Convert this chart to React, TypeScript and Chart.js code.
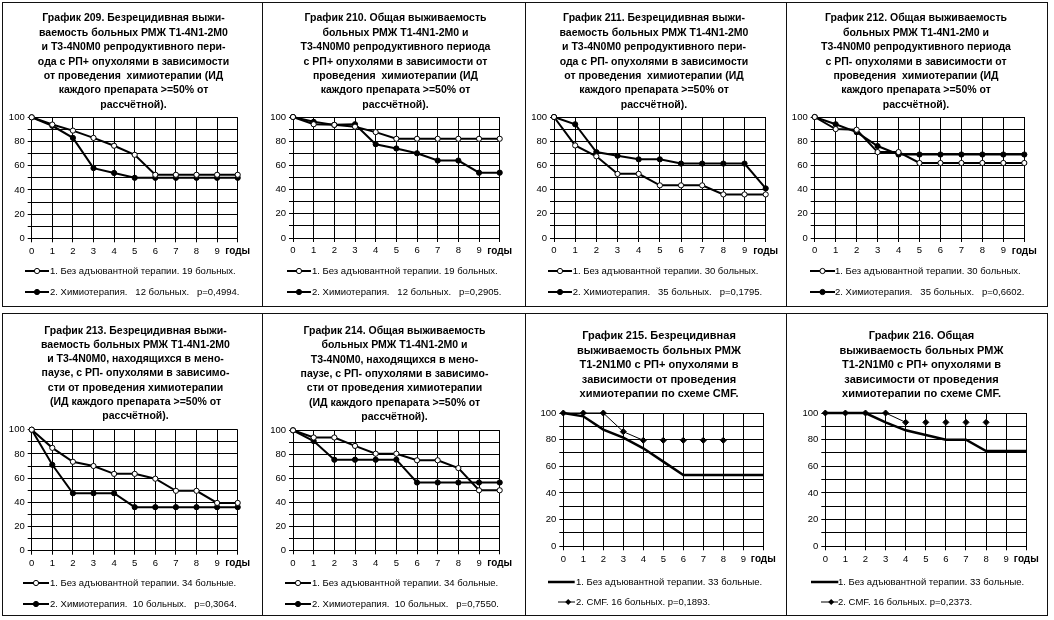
import React, { useEffect, useRef } from 'react';
import { Chart, registerables } from 'chart.js';

Chart.register(...registerables);

const FONT = "'Liberation Sans', Arial, Helvetica, sans-serif";

// x axis categories (years); last label is the axis caption
const xLabels = ['0', '1', '2', '3', '4', '5', '6', '7', '8', '9', 'годы'];

// График 209
const g209NoAdj = [100, 94, 89, 83, 76.5, 69, 52.5, 52.5, 52.5, 52.5, 52.5];
const g209Chemo = [100, 93, 83, 58, 54, 50, 50, 50, 50, 50, 50];
// График 210
const g210NoAdj = [100, 94, 93.5, 92, 87.5, 82, 82, 82, 82, 82, 82];
const g210Chemo = [100, 96, 93.5, 94, 77.5, 74, 70, 64, 64, 54, 54];
// График 211
const g211NoAdj = [100, 76.5, 67.5, 53, 53, 43.5, 43.5, 43.5, 36, 36, 36];
const g211Chemo = [100, 94, 71, 68, 65, 65, 61.5, 61.5, 61.5, 61.5, 41];
// График 212
const g212NoAdj = [100, 90, 89.5, 71, 71, 62, 62, 62, 62, 62, 62];
const g212Chemo = [100, 94, 87.5, 76, 69, 69, 69, 69, 69, 69, 69];
// График 213
const g213NoAdj = [100, 85, 73.5, 70, 63.5, 63.5, 59.5, 49.5, 49.5, 39.5, 39.5];
const g213Chemo = [100, 71, 47.5, 47.5, 47.5, 36, 36, 36, 36, 36, 36];
// График 214
const g214NoAdj = [100, 94, 94, 87, 80.5, 80.5, 75, 75, 68.5, 50, 50];
const g214Chemo = [100, 91, 75.5, 75.5, 75.5, 75.5, 56.5, 56.5, 56.5, 56.5, 56.5];
// График 215
const g215NoAdj = [100, 97.5, 87.5, 81.5, 73.5, 63.5, 53.5, 53.5, 53.5, 53.5, 53.5];
const g215CMF = [100, 100, 100, 86, 79.5, 79.5, 79.5, 79.5, 79.5];
// График 216
const g216NoAdj = [100, 100, 100, 93, 87, 83.5, 80, 80, 71.5, 71.5, 71.5];
const g216CMF = [100, 100, 100, 100, 93, 93, 93, 93, 93];

interface Panel {
  box: [number, number, number, number];
  plot: [number, number, number, number];
  title: string[];
  titleSize: number;
  titleLH: number;
  titleFirst: number;
  shift: number;
  kind: 'km' | 'cmf';
  s1: number[];
  s2: number[];
  legend: [string, string];
  legendY: [number, number];
  legendLine: [number, number][];
  textX: number;
}

const panels: Panel[] = [
  {
    box: [2, 2, 262, 306], plot: [31.7, 117.3, 237.7, 238.3],
    title: ['График 209. Безрецидивная выжи-', 'ваемость больных РМЖ Т1-4N1-2М0', 'и Т3-4N0М0 репродуктивного пери-', 'ода с РП+ опухолями в зависимости', 'от проведения  химиотерапии (ИД', 'каждого препарата >=50% от', 'рассчётной).'],
    titleSize: 10.5, titleLH: 14.45, titleFirst: 18.3, shift: 1, kind: 'km',
    s1: g209NoAdj, s2: g209Chemo,
    legend: ['1. Без адъювантной терапии. 19 больных.', '2. Химиотерапия.   12 больных.   p=0,4994.'],
    legendY: [270.7, 291.7], legendLine: [[25, 49], [25, 49]], textX: 50,
  },
  {
    box: [262, 2, 525, 306], plot: [293, 117, 499.7, 238],
    title: ['График 210. Общая выживаемость', 'больных РМЖ Т1-4N1-2М0 и', 'Т3-4N0М0 репродуктивного периода', 'с РП+ опухолями в зависимости от', 'проведения  химиотерапии (ИД', 'каждого препарата >=50% от', 'рассчётной).'],
    titleSize: 10.5, titleLH: 14.45, titleFirst: 18.3, shift: 1.5, kind: 'km',
    s1: g210NoAdj, s2: g210Chemo,
    legend: ['1. Без адъювантной терапии. 19 больных.', '2. Химиотерапия.   12 больных.   p=0,2905.'],
    legendY: [270.7, 291.7], legendLine: [[287, 311], [287, 311]], textX: 312,
  },
  {
    box: [525, 2, 786, 306], plot: [554, 117, 761.7, 238],
    title: ['График 211. Безрецидивная выжи-', 'ваемость больных РМЖ Т1-4N1-2М0', 'и Т3-4N0М0 репродуктивного пери-', 'ода с РП- опухолями в зависимости', 'от проведения  химиотерапии (ИД', 'каждого препарата >=50% от', 'рассчётной).'],
    titleSize: 10.5, titleLH: 14.45, titleFirst: 18.3, shift: -2, kind: 'km',
    s1: g211NoAdj, s2: g211Chemo,
    legend: ['1. Без адъювантной терапии. 30 больных.', '2. Химиотерапия.   35 больных.   p=0,1795.'],
    legendY: [270.7, 291.7], legendLine: [[547.7, 571.7], [547.7, 571.7]], textX: 572.7,
  },
  {
    box: [786, 2, 1047, 306], plot: [814.7, 117, 1022.3, 238],
    title: ['График 212. Общая выживаемость', 'больных РМЖ Т1-4N1-2М0 и', 'Т3-4N0М0 репродуктивного периода', 'с РП- опухолями в зависимости от', 'проведения  химиотерапии (ИД', 'каждого препарата >=50% от', 'рассчётной).'],
    titleSize: 10.5, titleLH: 14.45, titleFirst: 18.3, shift: -1, kind: 'km',
    s1: g212NoAdj, s2: g212Chemo,
    legend: ['1. Без адъювантной терапии. 30 больных.', '2. Химиотерапия.   35 больных.   p=0,6602.'],
    legendY: [270.7, 291.7], legendLine: [[809.7, 834.7], [809.7, 834.7]], textX: 835,
  },
  {
    box: [2, 313, 262, 615], plot: [31.7, 429.7, 237.7, 550.7],
    title: ['График 213. Безрецидивная выжи-', 'ваемость больных РМЖ Т1-4N1-2М0', 'и Т3-4N0М0, находящихся в мено-', 'паузе, с РП- опухолями в зависимо-', 'сти от проведения химиотерапии', '(ИД каждого препарата >=50% от', 'рассчётной).'],
    titleSize: 10.5, titleLH: 14.27, titleFirst: 330.7, shift: 3, kind: 'km',
    s1: g213NoAdj, s2: g213Chemo,
    legend: ['1. Без адъювантной терапии. 34 больные.', '2. Химиотерапия.  10 больных.   p=0,3064.'],
    legendY: [583.3, 604], legendLine: [[23.3, 49.3], [23.3, 49.3]], textX: 50,
  },
  {
    box: [262, 313, 525, 615], plot: [293, 430.3, 499.7, 550.3],
    title: ['График 214. Общая выживаемость', 'больных РМЖ Т1-4N1-2М0 и', 'Т3-4N0М0, находящихся в мено-', 'паузе, с РП- опухолями в зависимо-', 'сти от проведения химиотерапии', '(ИД каждого препарата >=50% от', 'рассчётной).'],
    titleSize: 10.5, titleLH: 14.3, titleFirst: 331.3, shift: 0.5, kind: 'km',
    s1: g214NoAdj, s2: g214Chemo,
    legend: ['1. Без адъювантной терапии. 34 больные.', '2. Химиотерапия.  10 больных.   p=0,7550.'],
    legendY: [583.3, 604], legendLine: [[285.3, 311.3], [285.3, 311.3]], textX: 312,
  },
  {
    box: [525, 313, 786, 615], plot: [563.3, 413, 763.3, 546.3],
    title: ['График 215. Безрецидивная', 'выживаемость больных РМЖ', 'Т1-2N1M0 с РП+ опухолями в', 'зависимости от проведения', 'химиотерапии по схеме CMF.'],
    titleSize: 11, titleLH: 14.4, titleFirst: 336.3, shift: 3, kind: 'cmf',
    s1: g215NoAdj, s2: g215CMF,
    legend: ['1. Без адъювантной терапии. 33 больные.', '2. CMF. 16 больных. p=0,1893.'],
    legendY: [582, 602], legendLine: [[548.3, 575], [558, 575]], textX: 576,
  },
  {
    box: [786, 313, 1047, 615], plot: [825.3, 413, 1026.3, 546.3],
    title: ['График 216. Общая', 'выживаемость больных РМЖ', 'Т1-2N1M0 с РП+ опухолями в', 'зависимости от проведения', 'химиотерапии по схеме CMF.'],
    titleSize: 11, titleLH: 14.4, titleFirst: 336.3, shift: 4.5, kind: 'cmf',
    s1: g216NoAdj, s2: g216CMF,
    legend: ['1. Без адъювантной терапии. 33 больные.', '2. CMF. 16 больных. p=0,2373.'],
    legendY: [582, 602], legendLine: [[810.7, 838], [821, 838]], textX: 838,
  },
];

function PanelChart({ p }: { p: Panel }) {
  const ref = useRef<HTMLCanvasElement>(null);
  const [x0, y0, x1, y1] = p.box;
  const cl = x0 + 1;
  const ct = y0 + 1;
  const cw = x1 - x0 - 1;
  const ch = y1 - y0 - 1;

  useEffect(() => {
    if (!ref.current) return;
    const [L, T, R, B] = p.plot;
    const padLeft = Math.max(0, 2 * p.shift);
    const padRight = Math.max(0, -2 * p.shift);
    const yW = L - cl - padLeft;
    const xPadRight = cl + cw - R - padRight;
    const xH = 24;
    const padBottom = ct + ch - B - xH;
    const tPadTop = p.titleFirst - ct - p.titleLH / 2;
    const tPadBottom = T - ct - tPadTop - p.title.length * p.titleLH;

    const datasets: any[] =
      p.kind === 'km'
        ? [
            {
              data: p.s1, borderColor: '#000', borderWidth: 2,
              pointRadius: 2.6, pointBackgroundColor: '#fff', pointBorderColor: '#000', pointBorderWidth: 1,
              tension: 0, clip: false,
            },
            {
              data: p.s2, borderColor: '#000', borderWidth: 2,
              pointRadius: 2.6, pointBackgroundColor: '#000', pointBorderColor: '#000', pointBorderWidth: 1,
              tension: 0, clip: false,
            },
          ]
        : [
            {
              data: p.s1, borderColor: '#000', borderWidth: 2.5, pointRadius: 0, tension: 0, clip: false,
            },
            {
              data: p.s2, borderColor: '#000', borderWidth: 1,
              pointStyle: 'rectRot', pointRadius: 3, pointBackgroundColor: '#000', pointBorderColor: '#000',
              tension: 0, clip: false,
              segment: { borderColor: (c: any) => (c.p0DataIndex >= 4 ? 'rgba(0,0,0,0)' : '#000') },
            },
          ];

    const chart = new Chart(ref.current, {
      type: 'line',
      data: { labels: xLabels, datasets },
      options: {
        responsive: false,
        animation: false,
        devicePixelRatio: 1,
        layout: { padding: { top: 0, left: padLeft, right: padRight, bottom: padBottom } },
        plugins: {
          legend: { display: false },
          tooltip: { enabled: false },
          title: {
            display: true,
            text: p.title,
            color: '#000',
            font: { family: FONT, size: p.titleSize, weight: 'bold', lineHeight: p.titleLH + 'px' },
            padding: { top: tPadTop, bottom: tPadBottom },
          },
        },
        scales: {
          x: {
            type: 'category',
            offset: false,
            grid: { color: '#000', lineWidth: 1, tickLength: 4, offset: false },
            border: { color: '#000', width: 1 },
            ticks: {
              autoSkip: false, maxRotation: 0, minRotation: 0, padding: 3, color: '#000',
              font: (c: any) => ({ family: FONT, size: c.index === 10 ? 10 : 9.5, weight: c.index === 10 ? 'bold' : 'normal' }),
            },
            afterFit: (s: any) => {
              s.height = xH;
              s.paddingRight = xPadRight;
            },
          } as any,
          y: {
            min: 0,
            max: 100,
            grid: { color: '#000', lineWidth: 1, tickLength: 4 },
            border: { color: '#000', width: 1 },
            ticks: {
              stepSize: 10, autoSkip: false, padding: 3, color: '#000',
              font: { family: FONT, size: 9.5 },
              callback: (v: any) => (Number(v) % 20 === 0 ? String(v) : ''),
            },
            afterFit: (s: any) => {
              s.width = yW;
            },
          } as any,
        },
      },
    });
    return () => chart.destroy();
  }, []);

  return (
    <canvas
      ref={ref}
      width={cw}
      height={ch}
      style={{ position: 'absolute', left: cl, top: ct, width: cw, height: ch }}
    />
  );
}

function LegendRow({ p, i }: { p: Panel; i: number }) {
  const [a, b] = p.legendLine[i];
  const y = p.legendY[i];
  const w = b - a;
  let sample: React.ReactNode;
  if (p.kind === 'km') {
    sample = (
      <>
        <line x1={0} y1={6} x2={w} y2={6} stroke="#000" strokeWidth={2} />
        <circle cx={w / 2} cy={6} r={2.6} fill={i === 0 ? '#fff' : '#000'} stroke="#000" strokeWidth={1} />
      </>
    );
  } else if (i === 0) {
    sample = <line x1={0} y1={6} x2={w} y2={6} stroke="#000" strokeWidth={2.5} />;
  } else {
    const m = w * 0.6;
    sample = (
      <>
        <line x1={0} y1={6} x2={w} y2={6} stroke="#000" strokeWidth={1} />
        <polygon points={`${m},3 ${m + 3},6 ${m},9 ${m - 3},6`} fill="#000" />
      </>
    );
  }
  return (
    <>
      <svg
        width={w}
        height={12}
        style={{ position: 'absolute', left: a, top: y - 6, overflow: 'visible' }}
      >
        {sample}
      </svg>
      <span
        style={{
          position: 'absolute',
          left: p.textX,
          top: y - 6,
          fontFamily: FONT,
          fontSize: 9.5,
          lineHeight: '12px',
          color: '#000',
          whiteSpace: 'pre',
        }}
      >
        {p.legend[i]}
      </span>
    </>
  );
}

export default function App() {
  return (
    <div
      style={{
        position: 'absolute',
        left: 0,
        top: 0,
        width: 1054,
        height: 620,
        background: '#fff',
        overflow: 'hidden',
      }}
    >
      {panels.map((p, k) => (
        <React.Fragment key={k}>
          <div
            style={{
              position: 'absolute',
              left: p.box[0],
              top: p.box[1],
              width: p.box[2] - p.box[0] + 1,
              height: p.box[3] - p.box[1] + 1,
              border: '1px solid #111',
              boxSizing: 'border-box',
            }}
          />
          <PanelChart p={p} />
          <LegendRow p={p} i={0} />
          <LegendRow p={p} i={1} />
        </React.Fragment>
      ))}
    </div>
  );
}
